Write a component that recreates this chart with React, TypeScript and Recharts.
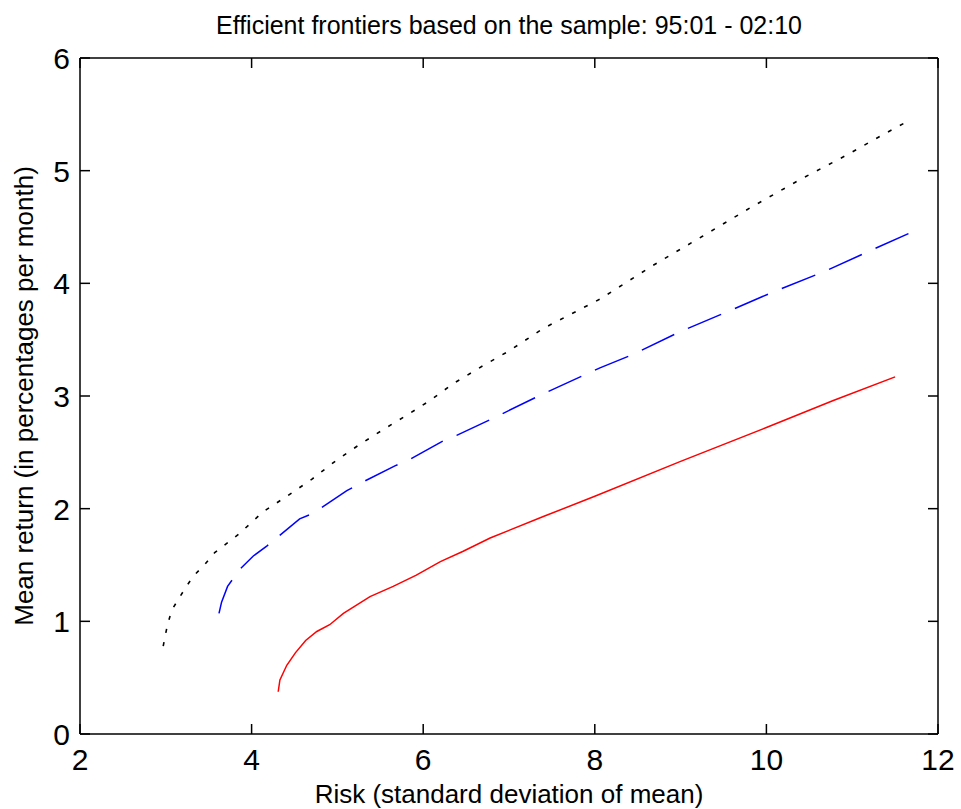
import React from 'react';
import { LineChart, Line, XAxis, YAxis, ReferenceLine } from 'recharts';

// Efficient frontier curves (risk = std. dev., return = % per month)
const blackRisk = [2.97, 2.99, 3.02, 3.07, 3.15, 3.24, 3.32, 3.46, 3.57, 3.86, 4.13, 4.41, 4.70, 4.99, 5.26, 5.53, 5.81, 6.08, 6.35, 6.70, 7.00, 7.40, 8.06, 8.68, 9.26, 9.81, 10.39, 10.94, 11.36, 11.65];
const blackReturn = [0.78, 0.86, 0.97, 1.10, 1.20, 1.31, 1.40, 1.51, 1.61, 1.78, 1.97, 2.11, 2.26, 2.43, 2.57, 2.70, 2.83, 2.96, 3.11, 3.27, 3.40, 3.60, 3.86, 4.16, 4.42, 4.67, 4.92, 5.14, 5.32, 5.44];

const blueRisk = [3.62, 3.65, 3.72, 3.86, 4.02, 4.18, 4.56, 4.72, 5.11, 5.28, 5.67, 5.85, 6.23, 6.39, 6.78, 7.40, 8.06, 8.45, 8.99, 9.55, 10.10, 10.66, 11.21, 11.77];
const blueReturn = [1.07, 1.17, 1.31, 1.46, 1.58, 1.67, 1.91, 1.96, 2.16, 2.23, 2.38, 2.44, 2.60, 2.65, 2.79, 3.02, 3.25, 3.37, 3.57, 3.75, 3.93, 4.10, 4.29, 4.48];

const redRisk = [4.31, 4.33, 4.41, 4.51, 4.63, 4.76, 4.91, 5.07, 5.38, 5.65, 5.92, 6.20, 6.46, 6.78, 7.40, 8.00, 9.00, 10.00, 10.78, 11.50];
const redReturn = [0.375, 0.48, 0.61, 0.72, 0.83, 0.91, 0.97, 1.07, 1.22, 1.31, 1.41, 1.53, 1.62, 1.74, 1.93, 2.11, 2.42, 2.72, 2.96, 3.17];

const xTicks = [2, 4, 6, 8, 10, 12];
const yTicks = [0, 1, 2, 3, 4, 5, 6];
const X_MIN = 2, X_MAX = 12, Y_MIN = 0, Y_MAX = 6;

const FONT = '"Liberation Sans", Arial, Helvetica, sans-serif';
const PLOT_W = 858;
const PLOT_H = 676;
const TICK_LEN = 10;
// inward tick length expressed in data units so it can go through the axis scales
const TICK_DX = ((X_MAX - X_MIN) * TICK_LEN) / PLOT_W;
const TICK_DY = ((Y_MAX - Y_MIN) * TICK_LEN) / PLOT_H;
const frame = { stroke: '#000', strokeWidth: 1.5 };

const toPoints = (xs: number[], ys: number[]) => xs.map((x, i) => ({ x, y: ys[i] }));
const blackData = toPoints(blackRisk, blackReturn);
const blueData = toPoints(blueRisk, blueReturn);
const redData = toPoints(redRisk, redReturn);

const BottomLabel = (p: any) => (
  <text x={p.x} y={p.y + 36} textAnchor="middle" fontSize={30} fontFamily={FONT} fill="#000">
    {p.payload.value}
  </text>
);

const LeftLabel = (p: any) => (
  <text x={p.x - 10} y={p.y + 11} textAnchor="end" fontSize={30} fontFamily={FONT} fill="#000">
    {p.payload.value}
  </text>
);

const tickSegments = [
  ...xTicks.map((t) => [{ x: t, y: Y_MIN }, { x: t, y: Y_MIN + TICK_DY }]),
  ...xTicks.map((t) => [{ x: t, y: Y_MAX }, { x: t, y: Y_MAX - TICK_DY }]),
  ...yTicks.map((t) => [{ x: X_MIN, y: t }, { x: X_MIN + TICK_DX, y: t }]),
  ...yTicks.map((t) => [{ x: X_MAX, y: t }, { x: X_MAX - TICK_DX, y: t }]),
];

export default function App() {
  return (
    <div style={{ position: 'absolute', left: 0, top: 0, width: 961, height: 809, background: '#fff' }}>
      <LineChart width={961} height={809} margin={{ top: 57, right: 22, bottom: 0, left: 0 }}>
        <XAxis
          xAxisId="bottom"
          dataKey="x"
          type="number"
          domain={[X_MIN, X_MAX]}
          ticks={xTicks}
          height={75}
          tickSize={0}
          tickMargin={0}
          tickLine={false}
          axisLine={frame}
          tick={<BottomLabel />}
          allowDataOverflow
        />
        <XAxis
          xAxisId="top"
          orientation="top"
          dataKey="x"
          type="number"
          domain={[X_MIN, X_MAX]}
          ticks={xTicks}
          height={1}
          tickLine={false}
          axisLine={frame}
          tick={false}
          allowDataOverflow
        />
        <YAxis
          yAxisId="left"
          type="number"
          domain={[Y_MIN, Y_MAX]}
          ticks={yTicks}
          width={80}
          tickSize={0}
          tickMargin={0}
          tickLine={false}
          axisLine={frame}
          tick={<LeftLabel />}
          allowDataOverflow
        />
        <YAxis
          yAxisId="right"
          orientation="right"
          type="number"
          domain={[Y_MIN, Y_MAX]}
          ticks={yTicks}
          width={1}
          tickLine={false}
          axisLine={frame}
          tick={false}
          allowDataOverflow
        />
        {tickSegments.map((seg, i) => (
          <ReferenceLine
            key={`tick-${i}`}
            xAxisId="bottom"
            yAxisId="left"
            segment={seg}
            stroke="#000"
            strokeWidth={1.5}
            ifOverflow="visible"
          />
        ))}
        <Line
          xAxisId="bottom"
          yAxisId="left"
          data={blackData}
          dataKey="y"
          type="linear"
          stroke="#000"
          strokeWidth={1.6}
          strokeDasharray="4 9.5"
          dot={false}
          isAnimationActive={false}
        />
        <Line
          xAxisId="bottom"
          yAxisId="left"
          data={blueData}
          dataKey="y"
          type="linear"
          stroke="#0000ff"
          strokeWidth={1.5}
          strokeDasharray="36 15"
          dot={false}
          isAnimationActive={false}
        />
        <Line
          xAxisId="bottom"
          yAxisId="left"
          data={redData}
          dataKey="y"
          type="linear"
          stroke="#ff0000"
          strokeWidth={1.5}
          dot={false}
          isAnimationActive={false}
        />
      </LineChart>
      <svg
        width={961}
        height={809}
        style={{ position: 'absolute', left: 0, top: 0, pointerEvents: 'none' }}
      >
        <text x={509} y={34} textAnchor="middle" fontSize={25} fontFamily={FONT} fill="#000">
          Efficient frontiers based on the sample: 95:01 - 02:10
        </text>
        <text x={509} y={803} textAnchor="middle" fontSize={26} fontFamily={FONT} fill="#000">
          Risk (standard deviation of mean)
        </text>
        <text
          x={33}
          y={396}
          textAnchor="middle"
          fontSize={26}
          fontFamily={FONT}
          fill="#000"
          transform="rotate(-90 33 396)"
        >
          Mean return (in percentages per month)
        </text>
      </svg>
    </div>
  );
}
